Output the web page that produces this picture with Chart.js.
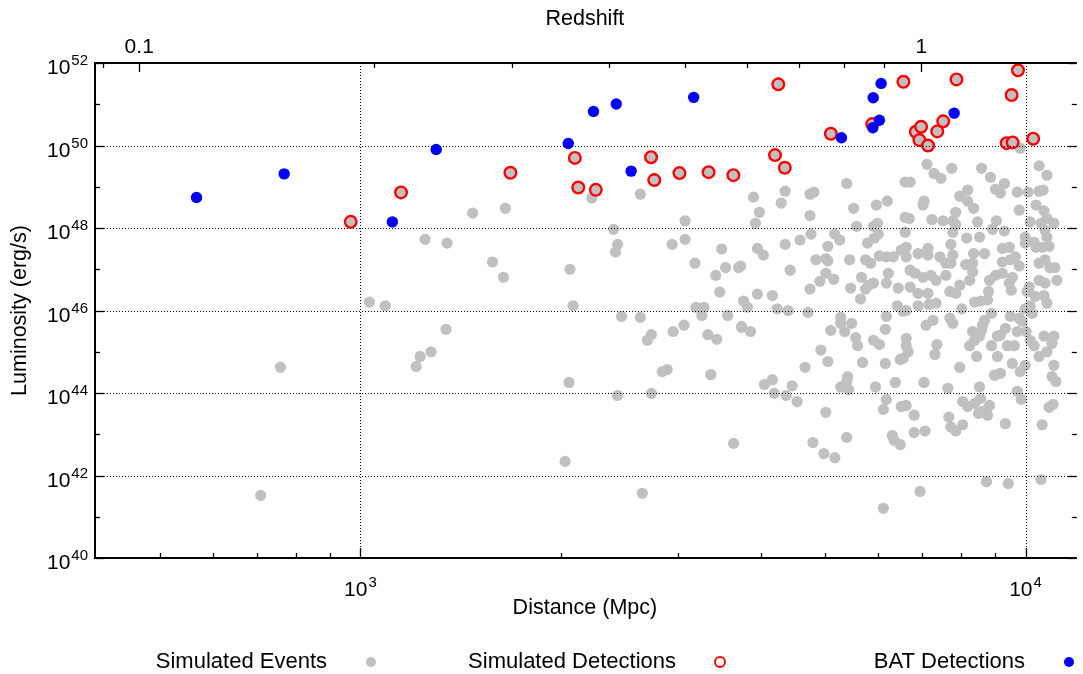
<!DOCTYPE html>
<html lang="en">
<head>
<meta charset="UTF-8">
<title>Luminosity vs Distance</title>
<script src="https://cdn.jsdelivr.net/npm/chart.js"></script>
<style>
    html, body { margin: 0; padding: 0; background: #fff; }
    #wrap { width: 1083px; height: 674px; }
</style>
</head>
<body>
<div id="wrap"><canvas id="grafico" width="1083" height="674"></canvas></div>
<script>
// Simulated events: distance (Mpc) and luminosity (erg/s)
const eventDist = [
    758, 708, 1032, 1090, 1213, 1230, 1277, 1345, 1475, 1652, 1251, 1350, 2228, 2636, 2403, 2436, 2419, 3077, 3077, 2942,
    3493, 1580, 1641, 2066, 2088, 3184, 3422, 3541, 3703, 3469, 3195, 3284, 3261, 3768, 3566, 3742, 2470, 2636, 2738, 2700,
    2953, 3066, 3329, 3434, 2059, 2436, 2738, 2843, 2892, 3364, 2031, 2654, 3640, 3899, 4352, 4292, 3980, 3925, 4742, 4807,
    4742, 5384, 5515, 5968, 6197, 5572, 5907, 5988, 6593, 6593, 4758, 4581, 4352, 3953, 4035, 3729, 4427, 5167, 5256, 5044,
    4840, 5009, 5044, 5440, 5787, 5927, 6009, 5747, 5847, 6030, 6177, 6327, 6503, 5009, 4907, 5149, 4742, 5668, 5807, 5907,
    6219, 6177, 6436, 5458, 7110, 7747, 8589, 6707, 7283, 7460, 8858, 9294, 9012, 9167, 9718, 10090, 10480, 10770, 9818, 10480,
    10630, 8185, 7963, 8185, 8356, 7037, 7013, 7855, 9785, 10370, 10660, 10770, 6684, 7233, 7512, 7774, 7855, 8471, 9042, 10160,
    10550, 11030, 10700, 7774, 8919, 9294, 6593, 8157, 8529, 7721, 9990, 9990, 10300, 10770, 10850, 9230, 9454, 8356, 8677, 7774,
    6616, 6616, 6894, 7134, 7134, 7434, 7590, 7721, 8130, 8327, 9785, 9230, 9488, 9652, 10480, 10700, 10880, 11070, 10370, 10590,
    6707, 6824, 7013, 7208, 7334, 7590, 7963, 8242, 8327, 8827, 9012, 9230, 9454, 9553, 10130, 10480, 10700, 11150, 6707, 3953,
    4162, 3819, 4234, 4397, 4709, 5747, 5649, 3742, 3859, 5274, 5274, 5477, 5096, 5347, 5553, 5591, 5907, 6030, 6155, 6177,
    6414, 6548, 4924, 5044, 5688, 6155, 6481, 4661, 4049, 4162, 4190, 4367, 4457, 4535, 5274, 5402, 5421, 5384, 5948, 6371,
    6177, 6113, 6503, 5009, 5384, 4791, 6305, 6349, 6481, 4975, 5167, 6800, 7061, 7668, 7721, 7855, 8046, 9326, 10590, 10850,
    11000, 6113, 6941, 8737, 9422, 10550, 6894, 7134, 7334, 7159, 6616, 6894, 7695, 7855, 8018, 8384, 8558, 8767, 8797, 9520,
    10060, 10340, 10660, 10770, 9990, 10160, 10230, 9488, 9785, 9886, 8889, 8677, 8618, 8589, 7087, 7258, 7695, 7774, 6616, 6616,
    6661, 6548, 7359, 7308, 8327, 8384, 8242, 8529, 8442, 8889, 9073, 9073, 9167, 9326, 9390, 9619, 9718, 10020, 10160, 10300,
    10660, 11030, 10960, 10770, 10480, 9553, 9818, 9990, 11030, 7963, 8981, 9167, 10960, 11110, 7037, 7642, 8529, 9718, 9853, 6616,
    8046, 8185, 8384, 8558, 8827, 8618, 8767, 8500, 6800
];
const eventLum = [
    4.2e44, 3.3e41, 1.6e46, 1.3e46, 4.4e44, 7.7e44, 1.0e45, 3.5e45, 2.3e48, 3.0e48, 5.3e47, 4.3e47, 5.3e48, 6.6e48, 9.3e47, 4.0e47, 2.6e47, 1.5e48, 5.3e47, 4.0e47,
    3.1e47, 1.5e47, 6.4e46, 1.0e47, 1.3e46, 1.4e47, 7.1e46, 1.1e47, 1.1e47, 2.8e46, 1.2e46, 1.2e46, 7.6e45, 1.7e46, 7.6e45, 3.9e45, 7.2e45, 6.8e45, 2.6e45, 1.9e45,
    3.1e45, 4.4e45, 2.6e45, 2.0e45, 1.8e44, 8.7e43, 9.8e43, 3.3e44, 3.7e44, 2.8e44, 2.2e42, 3.7e41, 6.0e42, 5.6e48, 7.8e48, 4.0e48, 2.4e48, 1.3e48, 6.6e48, 7.4e48,
    2.0e48, 1.2e49, 3.0e48, 3.6e48, 4.5e48, 1.1e48, 1.1e48, 1.3e48, 1.3e49, 1.8e48, 7.1e47, 5.1e47, 4.0e47, 3.2e47, 2.2e47, 1.2e47, 9.5e46, 7.1e47, 5.1e47, 3.6e47,
    1.7e47, 1.8e47, 1.6e47, 1.7e47, 4.3e47, 5.7e47, 7.1e47, 1.7e47, 1.4e47, 2.1e47, 2.0e47, 2.0e47, 2.9e47, 8.0e46, 5.1e46, 5.7e46, 3.3e46, 6.4e46, 4.1e46, 4.6e46,
    8.0e46, 4.6e46, 3.5e46, 3.5e46, 3.5e49, 2.8e49, 2.8e49, 1.3e49, 2.1e49, 1.6e49, 1.7e49, 1.2e49, 8.7e48, 7.0e48, 7.4e48, 7.4e48, 3.2e49, 1.9e49, 8.6e49, 7.8e48,
    8.3e48, 8.3e48, 5.9e48, 4.5e48, 3.0e48, 4.5e48, 3.6e48, 2.4e48, 2.7e48, 3.6e48, 2.6e48, 1.7e48, 1.7e48, 1.6e48, 1.5e48, 1.5e48, 1.2e48, 1.4e48, 1.5e48, 1.4e48,
    1.3e48, 1.3e48, 8.8e47, 7.9e47, 9.3e47, 8.4e47, 7.9e47, 5.7e47, 6.0e47, 4.0e47, 6.0e47, 4.3e47, 4.5e47, 6.0e47, 3.6e47, 3.2e47, 3.4e47, 2.4e47, 2.4e47, 2.2e47,
    3.4e47, 2.0e47, 2.4e47, 3.2e47, 2.2e47, 2.0e47, 1.4e47, 1.4e47, 1.3e47, 1.4e47, 1.2e47, 1.5e47, 1.7e47, 2.0e47, 1.4e47, 1.7e47, 1.1e47, 1.1e47, 3.4e47, 3.4e47,
    9.5e46, 8.0e46, 6.4e46, 7.1e46, 5.4e46, 7.1e46, 4.1e46, 5.4e46, 8.5e46, 5.4e46, 7.1e46, 8.0e46, 4.6e46, 6.4e46, 3.7e46, 5.4e46, 4.6e46, 5.4e46, 3.7e46, 2.5e46,
    2.3e46, 1.2e46, 1.1e46, 1.0e46, 9.0e45, 3.3e46, 1.9e46, 4.1e45, 3.1e45, 6.8e45, 4.9e45, 4.9e45, 3.3e45, 3.1e45, 2.2e45, 1.4e45, 1.9e45, 1.5e45, 3.5e45, 7.2e45,
    1.3e46, 9.6e45, 1.1e45, 5.8e44, 5.5e44, 5.2e44, 6.5e44, 4.2e44, 1.6e44, 2.1e44, 9.8e43, 8.7e43, 1.5e44, 6.2e43, 1.4e44, 2.5e44, 1.2e44, 1.9e44, 1.4e44, 1.8e44,
    7.0e43, 4.0e43, 4.7e43, 3.4e43, 8.4e42, 6.3e42, 9.3e42, 7.1e42, 5.6e42, 3.4e42, 2.7e42, 1.1e43, 1.2e43, 2.6e43, 1.5e43, 1.2e43, 1.7e43, 1.8e43, 1.7e43, 4.5e43,
    5.3e43, 1.6e41, 4.1e41, 7.1e41, 6.4e41, 8.0e41, 2.6e46, 2.6e46, 1.5e46, 1.4e46, 1.0e46, 1.3e46, 2.9e46, 2.6e46, 1.1e46, 1.6e46, 1.7e46, 1.8e46, 2.9e46, 3.1e46,
    2.9e46, 2.2e46, 2.3e46, 1.5e46, 1.1e46, 1.3e46, 8.5e45, 7.2e45, 6.5e45, 5.5e45, 8.5e45, 5.8e45, 4.4e45, 3.3e45, 4.4e45, 5.8e45, 6.5e45, 4.9e45, 2.1e45, 1.4e45,
    1.0e45, 6.9e44, 1.5e45, 8.6e44, 3.1e45, 1.9e45, 1.4e45, 2.4e45, 7.7e44, 1.4e45, 7.7e44, 2.4e45, 2.5e45, 3.7e45, 1.4e45, 1.4e45, 3.1e45, 3.1e45, 1.9e45, 1.4e45,
    2.4e45, 2.4e45, 1.6e45, 1.0e45, 7.7e44, 5.2e44, 3.3e44, 4.7e44, 4.7e44, 4.2e44, 2.7e44, 3.0e44, 2.5e44, 1.9e44, 1.8e44, 1.3e44, 1.4e44, 1.1e44, 7.0e43, 5.0e43,
    6.2e43, 4.7e43, 5.6e43, 7.4e43, 5.0e43, 3.6e43, 2.9e43, 3.2e43, 2.9e43
];

// Simulated detections
const detDist = [967, 1151, 1681, 2101, 2126, 2259, 2735, 2766, 3018, 3338, 3637, 4249, 4201, 4346, 5097, 5882, 6553, 6839, 6966, 6925,
    7136, 7367, 7520, 7874, 9743, 9530, 9369, 9563, 10268];
const detLum = [1.41e48, 7.3e48, 2.18e49, 5.0e49, 9.6e48, 8.4e48, 5.2e49, 1.45e49, 2.14e49, 2.26e49, 1.91e49, 3.04e51, 5.85e49, 2.88e49, 1.92e50, 3.3e50, 3.5e51, 2.15e50, 2.85e50, 1.35e50,
    1.0e50, 2.2e50, 3.85e50, 4.0e51, 6.65e51, 1.67e51, 1.14e50, 1.19e50, 1.46e50];

// BAT detections
const batDist = [567, 768, 1117, 1300, 2054, 2241, 2425, 2553, 3170, 5287, 5902, 6066, 6030, 5894, 7811];
const batLum = [5.5e48, 2.05e49, 1.41e48, 8.0e49, 1.12e50, 6.7e50, 1.01e51, 2.39e49, 1.47e51, 1.54e50, 1.44e51, 3.2e51, 4.1e50, 2.69e50, 6.1e50];

// axes
const distRange = [399, 11860];
const lumRange = [1e40, 1e52];
const distMajor = [1000, 10000];
const distMinor = [500, 600, 700, 800, 900, 2000, 3000, 4000, 5000, 6000, 7000, 8000, 9000];
const lumMajor = [1e40, 1e42, 1e44, 1e46, 1e48, 1e50, 1e52];
const lumMinor = [1e41, 1e43, 1e45, 1e47, 1e49, 1e51];
// redshift axis on top: z value, distance at which it sits, label
const redshiftZ = [0.09, 0.1, 0.2, 0.3, 0.4, 0.5, 0.6, 0.7, 0.8, 0.9, 1];
const redshiftDist = [410, 465, 1049, 1691, 2364, 3077, 3810, 4566, 5329, 6128, 6973];
const redshiftLabels = ['', '0.1', '', '', '', '', '', '', '', '', '1'];

const legendLabels = ['Simulated Events', 'Simulated Detections', 'BAT Detections'];

const FONTE = '"Liberation Sans", Arial, Helvetica, sans-serif';

function pontos(xs, ys) {
    return xs.map((v, i) => ({ x: v, y: ys[i] }));
}

function fonte(ctx, px) {
    ctx.font = px + 'px ' + FONTE;
}

// "10" with a raised exponent
function potencia(ctx, exp, x, y, align) {
    fonte(ctx, 21);
    const wb = ctx.measureText('10').width;
    fonte(ctx, 15);
    const we = ctx.measureText(exp).width;
    const total = wb + 1 + we;
    const x0 = align === 'right' ? x - total : x - total / 2;
    ctx.textAlign = 'left';
    ctx.textBaseline = 'alphabetic';
    fonte(ctx, 21);
    ctx.fillText('10', x0, y);
    fonte(ctx, 15);
    ctx.fillText(exp, x0 + wb + 1, y - 9);
}

function linha(ctx, x1, y1, x2, y2) {
    ctx.beginPath();
    ctx.moveTo(x1, y1);
    ctx.lineTo(x2, y2);
    ctx.stroke();
}

const eixos = {
    id: 'eixos',
    afterDatasetsDraw(chart) {
        const ctx = chart.ctx;
        const a = chart.chartArea;
        const sx = chart.scales.x;
        const sy = chart.scales.y;
        const px = v => Math.round(sx.getPixelForValue(v)) + 0.5;
        const py = v => Math.round(sy.getPixelForValue(v)) + 0.5;
        ctx.save();

        // dotted grid
        ctx.strokeStyle = '#000';
        ctx.lineWidth = 1;
        ctx.setLineDash([1, 2]);
        distMajor.forEach(v => linha(ctx, px(v), a.top, px(v), a.bottom));
        lumMajor.slice(1, -1).forEach(v => linha(ctx, a.left, py(v), a.right, py(v)));
        ctx.setLineDash([]);

        // ticks, pointing inwards
        ctx.lineWidth = 1.3;
        const dirX = a.right + 2;
        lumMajor.forEach(v => {
            linha(ctx, a.left, py(v), a.left + 9, py(v));
            linha(ctx, dirX, py(v), dirX - 9, py(v));
        });
        lumMinor.forEach(v => {
            linha(ctx, a.left, py(v), a.left + 5, py(v));
            linha(ctx, dirX, py(v), dirX - 5, py(v));
        });
        distMajor.forEach(v => linha(ctx, px(v), a.bottom, px(v), a.bottom - 10));
        distMinor.forEach(v => linha(ctx, px(v), a.bottom, px(v), a.bottom - 5));
        redshiftDist.forEach((v, i) => {
            const len = redshiftLabels[i] ? 9 : 5;
            linha(ctx, px(v), a.top, px(v), a.top + len);
        });

        // frame
        ctx.lineWidth = 2;
        ctx.beginPath();
        ctx.moveTo(a.right + 2, a.top);
        ctx.lineTo(a.left, a.top);
        ctx.lineTo(a.left, a.bottom);
        ctx.lineTo(a.right + 2, a.bottom);
        ctx.stroke();

        // tick labels
        ctx.fillStyle = '#000';
        lumMajor.forEach(v => {
            potencia(ctx, String(Math.round(Math.log10(v))), a.left - 7, sy.getPixelForValue(v) + 11, 'right');
        });
        distMajor.forEach(v => {
            potencia(ctx, String(Math.round(Math.log10(v))), sx.getPixelForValue(v), a.bottom + 38, 'center');
        });
        fonte(ctx, 21);
        ctx.textAlign = 'center';
        ctx.textBaseline = 'alphabetic';
        redshiftDist.forEach((v, i) => {
            if (redshiftLabels[i]) ctx.fillText(redshiftLabels[i], sx.getPixelForValue(v), a.top - 10);
        });

        // axis titles
        const cx = (a.left + a.right) / 2;
        fonte(ctx, 21.5);
        ctx.fillText('Redshift', cx, 25);
        ctx.fillText('Distance (Mpc)', cx, a.bottom + 56);
        ctx.save();
        ctx.translate(26, (a.top + a.bottom) / 2);
        ctx.rotate(-Math.PI / 2);
        ctx.fillText('Luminosity (erg/s)', 0, 0);
        ctx.restore();

        // legend: text right aligned, marker on its right
        const ly = 662;
        fonte(ctx, 22);
        ctx.textAlign = 'right';
        ctx.textBaseline = 'middle';
        legendLabels.forEach((t, i) => {
            const xt = 327 + 349 * i;
            const xm = 371 + 349 * i;
            ctx.fillStyle = '#000';
            ctx.fillText(t, xt, ly);
            ctx.beginPath();
            if (i === 1) {
                ctx.arc(xm, ly, 5, 0, Math.PI * 2);
                ctx.fillStyle = '#fff';
                ctx.fill();
                ctx.strokeStyle = '#ff0000';
                ctx.lineWidth = 2;
                ctx.stroke();
            } else {
                ctx.arc(xm, ly, 5, 0, Math.PI * 2);
                ctx.fillStyle = i === 0 ? '#c0c0c0' : '#0000ff';
                ctx.fill();
            }
        });
        ctx.restore();
    }
};

const semEixo = {
    grid: { display: false },
    border: { display: false },
    ticks: { display: false }
};

new Chart(document.getElementById('grafico').getContext('2d'), {
    type: 'scatter',
    data: {
        datasets: [
            {
                label: legendLabels[2],
                data: pontos(batDist, batLum),
                order: 1,
                pointRadius: 5.7,
                pointBorderWidth: 0,
                pointBackgroundColor: '#0000ff'
            },
            {
                label: legendLabels[1],
                data: pontos(detDist, detLum),
                order: 2,
                pointRadius: 5.8,
                pointBorderWidth: 2.4,
                pointBorderColor: '#ff0000',
                pointBackgroundColor: '#c0c0c0'
            },
            {
                label: legendLabels[0],
                data: pontos(eventDist, eventLum),
                order: 3,
                pointRadius: 5.6,
                pointBorderWidth: 0,
                pointBackgroundColor: '#c0c0c0'
            }
        ]
    },
    options: {
        responsive: false,
        animation: false,
        devicePixelRatio: 1,
        layout: { padding: { top: 63, right: 0, bottom: 0, left: 0 } },
        plugins: {
            legend: { display: false },
            tooltip: { enabled: false }
        },
        scales: {
            x: {
                type: 'logarithmic',
                position: 'bottom',
                min: distRange[0],
                max: distRange[1],
                ...semEixo,
                afterFit: s => { s.height = 116; }
            },
            y: {
                type: 'logarithmic',
                position: 'left',
                min: lumRange[0],
                max: lumRange[1],
                ...semEixo,
                afterFit: s => { s.width = 95; }
            }
        }
    },
    plugins: [eixos]
});
</script>
</body>
</html>
